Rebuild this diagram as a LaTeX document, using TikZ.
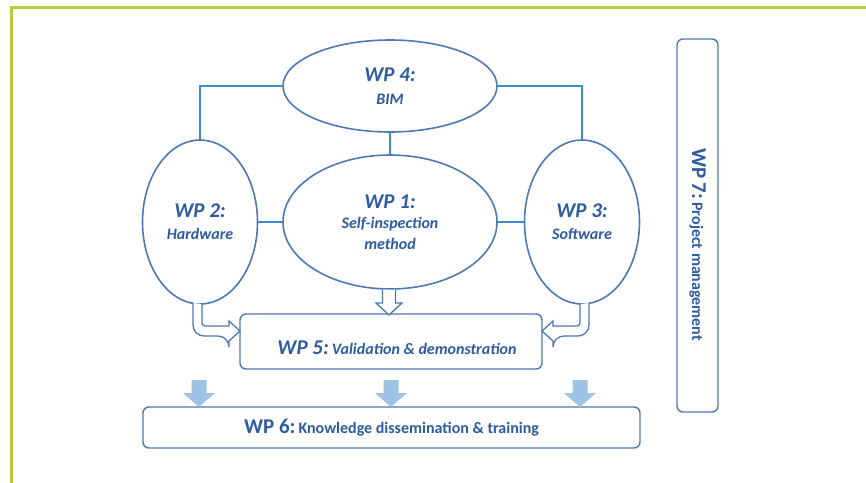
\documentclass[tikz,border=0pt]{standalone}
\usepackage{fontspec}
\setmainfont{Carlito}
\usetikzlibrary{shapes.geometric}
\definecolor{framegreen}{RGB}{181,204,58}
\definecolor{shapeblue}{RGB}{78,121,178}
\definecolor{linkblue}{RGB}{60,140,208}
\definecolor{txtblue}{RGB}{46,92,158}
\definecolor{fillarrow}{RGB}{157,195,230}
\newcommand\wphd[1]{{\fontsize{21}{22}\selectfont #1}}
\newcommand\wpsb[1]{{\fontsize{16}{22}\selectfont #1}}
\begin{document}
\begin{tikzpicture}[x=1pt,y=-1pt,
  ell/.style={ellipse, draw=shapeblue, line width=1.6pt, fill=white, inner sep=0pt,
    text=txtblue, font=\fontsize{16}{22}\selectfont\bfseries\itshape, align=center},
  wpbox/.style={rectangle, rounded corners=6pt, draw=shapeblue, line width=1.4pt,
    fill=white, inner sep=0pt, text=txtblue, font=\bfseries},
  conn/.style={draw=linkblue, line width=1.6pt},
  hollow/.style={draw=shapeblue, line width=1.3pt, fill=white, line join=miter},
  solidarrow/.style={fill=fillarrow, draw=none}]
\useasboundingbox (0,0) rectangle (866,482);
% frame
\draw[framegreen, line width=3pt] (11,483) -- (11,7) -- (867,7);
% ellipses
\node[ell, minimum width=214, minimum height=92, font=\fontsize{16}{23}\selectfont\bfseries\itshape] (wp4) at (390,86)
  {\wphd{WP 4:}\\\wpsb{BIM}};
\node[ell, minimum width=214, minimum height=134, font=\fontsize{16}{20.5}\selectfont\bfseries\itshape] (wp1) at (390,222)
  {\wphd{WP 1:}\\\wpsb{Self-inspection}\\\wpsb{method}};
\node[ell, minimum width=115, minimum height=164] (wp2) at (200,222)
  {\wphd{WP 2:}\\\wpsb{Hardware}};
\node[ell, minimum width=115, minimum height=164] (wp3) at (582,222)
  {\wphd{WP 3:}\\\wpsb{Software}};
% connectors
\draw[conn] (wp4.west) -| (wp2.north);
\draw[conn] (wp4.east) -| (wp3.north);
\draw[conn] (wp4.south) -- (wp1.north);
\draw[conn] (wp2.east) -- (wp1.west);
\draw[conn] (wp1.east) -- (wp3.west);
% WP5 box
\node[wpbox, font=\bfseries\itshape, minimum width=302, minimum height=55] (wp5) at (391,341.5)
  {\rule{0pt}{27pt}\hspace*{12pt}\wphd{WP 5:} \wpsb{Validation \& demonstration}};
% hollow arrows
\draw[hollow] (382.5,289.5) -- (382.5,303) -- (376,303) -- (389,315) -- (402,303) -- (395.5,303) -- (395.5,289.5);
\draw[hollow] (193,303) [rounded corners=11pt] -- (193,336) -- (229,336) [sharp corners] -- (229,341) -- (240,331) -- (229,321) -- (229,326) [rounded corners=3pt] -- (202,326) [sharp corners] -- (202,304);
\draw[hollow] (589,303) [rounded corners=11pt] -- (589,336) -- (553,336) [sharp corners] -- (553,341) -- (542,331) -- (553,321) -- (553,326) [rounded corners=3pt] -- (580,326) [sharp corners] -- (580,304);
% WP6 box
\node[wpbox, minimum width=497, minimum height=41] (wp6) at (391.5,427.5)
  {\wphd{WP 6:} \wpsb{Knowledge dissemination \& training}};
% filled arrows
\foreach \ax in {199,391,580}{
  \fill[solidarrow] (\ax-7.5,380) -- (\ax-7.5,393) -- (\ax-16,393) -- (\ax,407) -- (\ax+16,393) -- (\ax+7.5,393) -- (\ax+7.5,380) -- cycle;
}
% WP7 box
\node[wpbox, rotate=-90, minimum width=373, minimum height=41] (wp7) at (697.5,225.5)
  {\hspace*{38pt}{\fontsize{21}{22}\selectfont WP 7:} {\fontsize{16}{18}\selectfont Project management}};
\end{tikzpicture}
\end{document}
